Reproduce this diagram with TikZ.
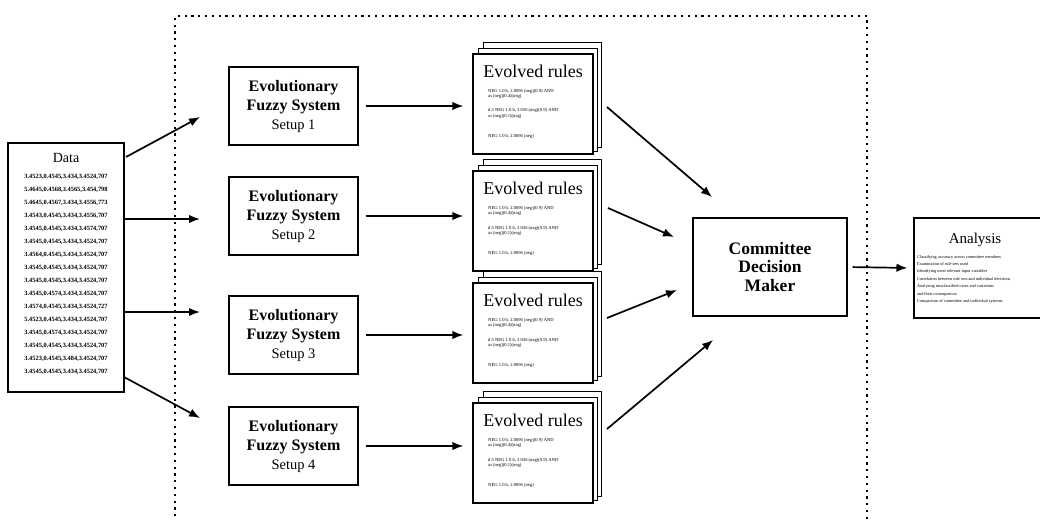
\documentclass[tikz,border=0pt]{standalone}
\usepackage{fontspec}
\setmainfont{Liberation Serif}
\usetikzlibrary{arrows.meta}

\tikzset{
  box/.style={draw, line width=1.1pt, fill=white, inner sep=0pt},
  efsbox/.style={box, minimum width=129pt, minimum height=78pt, align=center,
    font=\fontsize{16}{19}\selectfont\bfseries},
  page/.style={draw, line width=0.9pt, fill=white},
  front/.style={box, line width=1.3pt, minimum width=120pt, minimum height=100pt},
  ruletitle/.style={inner sep=0pt, font=\fontsize{18}{20}\selectfont},
  ruleline/.style={inner sep=0pt, anchor=west, align=left,
    font=\fontsize{4.6}{5.2}\selectfont},
  datarow/.style={inner sep=0pt, font=\fontsize{6.4}{7}\selectfont\bfseries},
  arr/.style={line width=1.7pt, -{Latex[length=11pt,width=8.5pt]}},
  dotbox/.style={line width=2pt, dash pattern=on 2.2pt off 4.6pt},
}

\begin{document}
\begin{tikzpicture}[x=1pt,y=-1pt]
\useasboundingbox (0,0) rectangle (1040,519);
\clip (0,0) rectangle (1040,519);
\fill[white] (0,0) rectangle (1040,519);

% dotted frame around the parallel fuzzy systems
\draw[dotbox] (175,530) -- (175,16) -- (867,16) -- (867,530);

% data table
\node[box, minimum width=116pt, minimum height=249pt] (data) at (66,267.5) {};
\node[inner sep=0pt, font=\fontsize{14}{16}\selectfont] (datatitle) at (66,158) {Data};
\foreach \r [count=\k from 0] in {
  {3.4523,0.4545,3.434,3.4524,707},
  {5.4645,0.4568,3.4565,3.454,798},
  {5.4645,0.4567,3.434,3.4556,773},
  {3.4543,0.4545,3.434,3.4556,707},
  {3.4545,0.4545,3.434,3.4574,707},
  {3.4545,0.4545,3.434,3.4524,707},
  {3.4564,0.4545,3.434,3.4524,707},
  {3.4545,0.4545,3.434,3.4524,707},
  {3.4545,0.4545,3.434,3.4524,707},
  {3.4545,0.4574,3.434,3.4524,707},
  {3.4574,0.4545,3.434,3.4524,727},
  {5.4523,0.4545,3.434,3.4524,707},
  {3.4545,0.4574,3.434,3.4524,707},
  {3.4545,0.4545,3.434,3.4524,707},
  {3.4523,0.4545,3.484,3.4524,707},
  {3.4545,0.4545,3.434,3.4524,707}} {
  \node[datarow] (row\k) at (66,177+13*\k) {\r};
}

% evolutionary fuzzy systems
\node[efsbox] (efs1) at (293.5,106) {Evolutionary\\Fuzzy System\\{\mdseries\fontsize{14.5}{19}\selectfont Setup 1}};
\node[efsbox] (efs2) at (293.5,216) {Evolutionary\\Fuzzy System\\{\mdseries\fontsize{14.5}{19}\selectfont Setup 2}};
\node[efsbox] (efs3) at (293.5,335) {Evolutionary\\Fuzzy System\\{\mdseries\fontsize{14.5}{19}\selectfont Setup 3}};
\node[efsbox] (efs4) at (293.5,446) {Evolutionary\\Fuzzy System\\{\mdseries\fontsize{14.5}{19}\selectfont Setup 4}};

% stacks of evolved rule sheets
\foreach \i/\t in {1/54, 2/171, 3/283, 4/403} {
  \draw[page] (483,\t-12) rectangle (601,\t+93);
  \draw[page] (478,\t-6) rectangle (597,\t+97);
  \node[front] (rules\i) at (533,\t+50) {};
  \node[ruletitle] (rt\i) at (533,\t+17) {Evolved rules};
  \node[ruleline] (ra\i) at (488,\t+39.5) {NEG 1.0 b, 2.0096 (neg)(0.9) AND\\as (neg)(0.4)(neg)};
  \node[ruleline] (rb\i) at (488,\t+59.5) {d.5 NEG 1.0 b, 3.036 (neg)(0.9) AND\\as (neg)(0.1)(neg)};
  \node[ruleline] (rc\i) at (488,\t+82) {NEG 1.0 b, 2.0096 (neg)};
}

% committee and analysis
\node[box, minimum width=154pt, minimum height=98pt, align=center,
  font=\fontsize{17.5}{18.5}\selectfont\bfseries] (cdm) at (770,267)
  {Committee\\Decision\\Maker};
\node[box, minimum width=134pt, minimum height=100pt] (ana) at (981,268) {};
\node[inner sep=0pt, font=\fontsize{15}{17}\selectfont] (anatitle) at (975,240) {Analysis};
\foreach \l [count=\k from 0] in {
  Classifying accuracy across committee members,
  Examination of rule sets used,
  Identifying most relevant input variables,
  Correlation between rule sets and individual decisions,
  Analysing misclassified cases and variations,
  and their consequences,
  Comparison of committee and individual systems} {
  \node[inner sep=0pt, anchor=west, font=\fontsize{4.3}{5}\selectfont] (al\k) at (917,257+7.4*\k) {\l};
}

% free ends of the connectors
\coordinate (d1s) at (126,157); \coordinate (d1e) at (200,117);
\coordinate (d2s) at (124,219); \coordinate (d2e) at (200,219);
\coordinate (d3s) at (124,312); \coordinate (d3e) at (200,312);
\coordinate (d4s) at (124,377); \coordinate (d4e) at (200,418);
\coordinate (c1s) at (607,107); \coordinate (c1e) at (712,197);
\coordinate (c2s) at (608,208); \coordinate (c2e) at (674,237);
\coordinate (c3s) at (607,318); \coordinate (c3e) at (677,290);
\coordinate (c4s) at (607,429); \coordinate (c4e) at (713,340);

% data to the fuzzy systems
\draw[arr] (d1s) -- (d1e);
\draw[arr] (d2s) -- (d2e);
\draw[arr] (d3s) -- (d3e);
\draw[arr] (d4s) -- (d4e);

% fuzzy systems to their rule sets
\foreach \i in {1,2,3,4} {
  \draw[arr, shorten <=7pt, shorten >=9pt] (efs\i.east) -- (efs\i.east -| rules\i.west);
}

% rule sets to the committee
\draw[arr] (c1s) -- (c1e);
\draw[arr] (c2s) -- (c2e);
\draw[arr] (c3s) -- (c3e);
\draw[arr] (c4s) -- (c4e);

% committee to analysis
\draw[arr, shorten <=5pt, shorten >=6pt] (cdm.east) -- (ana.west);
\end{tikzpicture}
\end{document}
